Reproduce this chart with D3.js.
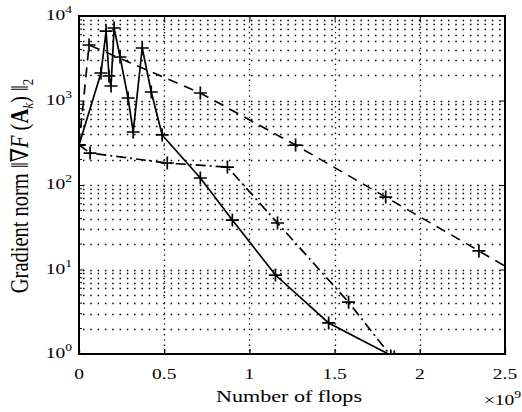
<!DOCTYPE html>
<html>
<head>
<meta charset="utf-8">
<script src="https://cdn.jsdelivr.net/npm/d3@7"></script>
<style>
  body { margin: 0; background: #fff; }
  text { font-family: 'Liberation Serif', 'DejaVu Serif', serif; fill: #000; }
</style>
</head>
<body>
<svg id="chart" width="522" height="412"></svg>
<script>
// flops in units of 1e9, gradient norm
let solidX = [0, 0.129, 0.159, 0.176, 0.188, 0.206, 0.241, 0.288, 0.318, 0.371, 0.424, 0.488, 0.712, 0.9, 1.153, 1.465, 1.85]
let solidY = [297, 2115, 6640, 1950, 1485, 7210, 3270, 1070, 424, 4180, 1260, 391, 121, 38.5, 8.6, 2.33, 0.92]

let dashedX = [0, 0.059, 0.712, 1.271, 1.8, 2.347, 2.88]
let dashedY = [297, 4540, 1227, 297, 72, 16.6, 3.9]

let dashDotX = [0, 0.065, 0.518, 0.871, 1.165, 1.582, 1.83]
let dashDotY = [297, 239, 182, 163, 35.5, 4.1, 0.95]

let xTicks = [0, 0.5, 1, 1.5, 2, 2.5]
let xTickLabels = ['0', '0.5', '1', '1.5', '2', '2.5']
let yTicks = [1, 10, 100, 1000, 10000]
let yTickExps = ['0', '1', '2', '3', '4']

let config = {
	left: 79,
	right: 505,
	top: 16,
	bottom: 354,
	stretch: 1.3,
}

let svg = d3.select('#chart')

let xScale = d3.scaleLinear()
	.domain([0, 2.5])
	.range([config.left, config.right])

let yScale = d3.scaleLog()
	.domain([1, 10000])
	.range([config.bottom, config.top])

svg.append('defs').append('clipPath')
	.attr('id', 'plot-clip')
	.append('rect')
	.attr('x', config.left)
	.attr('y', config.top)
	.attr('width', config.right - config.left)
	.attr('height', config.bottom - config.top)

// minor values on the log axis
let yMinor = []
for (let e = 0; e < 4; e++) {
	for (let m = 2; m <= 9; m++) yMinor.push(m * Math.pow(10, e))
}

// text that is a bit wider than tall, like the scanned figure
function wideText(x, y, anchor, size) {
	return svg.append('text')
		.attr('transform', `translate(${x}, ${y}) scale(${config.stretch}, 1)`)
		.attr('text-anchor', anchor)
		.style('font-size', size + 'px')
}

function drawGrid() {
	let grid = svg.append('g').attr('id', 'grid')
		.attr('stroke', '#000')
		.attr('fill', 'none')

	grid.selectAll('.hgrid')
		.data(yTicks.slice(1, -1).concat(yMinor))
		.enter()
		.append('line')
		.attr('x1', config.left + 4)
		.attr('x2', config.right)
		.attr('y1', d => Math.round(yScale(d)) + 0.5)
		.attr('y2', d => Math.round(yScale(d)) + 0.5)
		.attr('stroke-width', 1.5)
		.attr('stroke-dasharray', '1.5,5.8')

	grid.selectAll('.vgrid')
		.data(xTicks.slice(1, -1))
		.enter()
		.append('line')
		.attr('x1', d => Math.round(xScale(d)) + 0.5)
		.attr('x2', d => Math.round(xScale(d)) + 0.5)
		.attr('y1', config.top)
		.attr('y2', config.bottom)
		.attr('stroke-width', 1.3)
		.attr('stroke-dasharray', '1.3,4')
}

function drawAxis() {
	let bottomAxisG = svg.append('g')
		.attr('transform', `translate(0, ${config.bottom})`)
		.call(d3.axisBottom(xScale).tickValues(xTicks).tickSize(-5).tickFormat(''))
	bottomAxisG.select('.domain').remove()
	bottomAxisG.selectAll('line').attr('stroke-width', 1.3)

	xTicks.forEach((t, i) => {
		wideText(xScale(t), config.bottom + 25, 'middle', 15).text(xTickLabels[i])
	})

	let topAxisG = svg.append('g')
		.attr('transform', `translate(0, ${config.top})`)
		.call(d3.axisTop(xScale).tickValues(xTicks).tickSize(-5).tickFormat(''))
	topAxisG.select('.domain').remove()

	let leftAxisG = svg.append('g')
		.attr('transform', `translate(${config.left}, 0)`)
		.call(d3.axisLeft(yScale).tickValues(yTicks).tickSize(-5).tickFormat(''))
	leftAxisG.select('.domain').remove()

	let rightAxisG = svg.append('g')
		.attr('transform', `translate(${config.right}, 0)`)
		.call(d3.axisRight(yScale).tickValues(yTicks).tickSize(-5).tickFormat(''))
	rightAxisG.select('.domain').remove()

	// minor y ticks
	svg.append('g').selectAll('line')
		.data(yMinor)
		.enter()
		.append('line')
		.attr('x1', config.left)
		.attr('x2', config.left + 3)
		.attr('y1', d => yScale(d))
		.attr('y2', d => yScale(d))
		.attr('stroke', '#000')

	// y labels as 10^n
	yTicks.forEach((t, i) => {
		let lab = wideText(config.left - 7, yScale(t) + 4, 'end', 15)
		lab.append('tspan').text('10')
		lab.append('tspan')
			.attr('dy', -7)
			.style('font-size', '10.5px')
			.text(yTickExps[i])
	})

	// plot box
	svg.append('rect')
		.attr('x', config.left)
		.attr('y', config.top)
		.attr('width', config.right - config.left)
		.attr('height', config.bottom - config.top)
		.attr('fill', 'none')
		.attr('stroke', '#000')
		.attr('stroke-width', 2)
}

function drawSeries(xs, ys, dash) {
	let pts = xs.map((x, i) => [x, ys[i]])
	let g = svg.append('g').attr('clip-path', 'url(#plot-clip)')
	let line = d3.line()
		.x(d => xScale(d[0]))
		.y(d => yScale(d[1]))
	g.append('path')
		.datum(pts)
		.attr('d', line)
		.attr('fill', 'none')
		.attr('stroke', '#000')
		.attr('stroke-width', 1.7)
		.attr('stroke-dasharray', dash)

	let s = 6.5
	g.selectAll('.marker')
		.data(pts)
		.enter()
		.append('path')
		.attr('d', d => {
			let cx = xScale(d[0]), cy = yScale(d[1])
			return `M${cx - s},${cy}H${cx + s}M${cx},${cy - s}V${cy + s}`
		})
		.attr('stroke', '#000')
		.attr('stroke-width', 1.7)
}

function drawLabels() {
	wideText(xScale(1.25) - 3, 402, 'middle', 17).text('Number of flops')

	let mult = wideText(521, 405, 'end', 15)
	mult.append('tspan').text('\u00d710')
	mult.append('tspan').attr('dy', -7).style('font-size', '10.5px').text('9')

	let ylab = svg.append('text')
		.attr('transform', `translate(28, ${(config.top + config.bottom) / 2 + 1}) rotate(-90) scale(1, 1.2)`)
		.attr('text-anchor', 'middle')
		.style('font-size', '20.5px')
	ylab.append('tspan').text('Gradient norm \u2016\u2207')
	ylab.append('tspan').style('font-style', 'italic').text('F')
	ylab.append('tspan').text(' (')
	ylab.append('tspan').style('font-weight', 'bold').text('A')
	ylab.append('tspan').attr('dy', 4).style('font-style', 'italic').style('font-size', '13px').text('k')
	ylab.append('tspan').attr('dy', -4).text(') \u2016')
	ylab.append('tspan').attr('dy', 4).style('font-size', '13px').text('2')
}

drawGrid()
drawSeries(solidX, solidY, null)
drawSeries(dashedX, dashedY, '10,7')
drawSeries(dashDotX, dashDotY, '10,4,2,4')
drawAxis()
drawLabels()
</script>
</body>
</html>
